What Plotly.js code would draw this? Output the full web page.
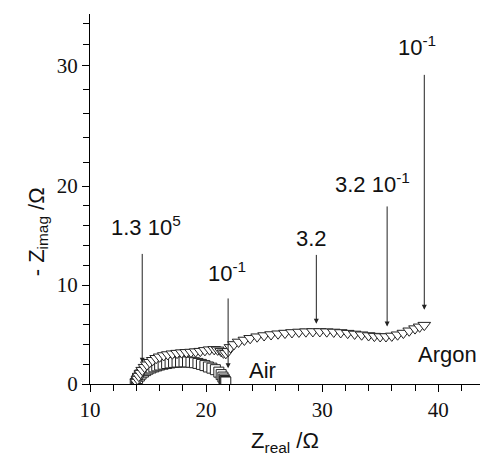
<!DOCTYPE html>
<html><head><meta charset="utf-8">
<script src="https://cdn.plot.ly/plotly-3.0.1.min.js"></script>
<style>body{margin:0;background:#fff}#chart{width:492px;height:456px}</style>
</head><body><div id="chart"></div>
<script>
// Air (squares)
const airX = [13.9,14.0,14.1,14.25,14.4,14.6,14.8,15.0,15.25,15.5,15.75,16.0,16.3,16.6,16.9,17.2,17.5,17.8,18.1,18.4,18.7,19.0,19.3,19.6,19.9,20.2,20.5,20.8,21.1,21.3,21.45,21.55,21.6,21.65,21.7];
const airY = [0.05,0.3,0.55,0.8,1.0,1.2,1.35,1.5,1.62,1.73,1.83,1.92,2.0,2.07,2.13,2.18,2.21,2.23,2.24,2.23,2.2,2.15,2.08,1.98,1.86,1.72,1.6,1.45,1.2,0.95,0.7,0.5,0.35,0.25,0.2];
// Argon (down triangles)
const argX = [14.0,14.1,14.2,14.35,14.5,14.7,14.9,15.15,15.4,15.7,16.0,16.35,16.7,17.1,17.5,17.9,18.3,18.7,19.1,19.5,19.9,20.3,20.7,21.0,21.3,21.5,21.7,21.9,22.1,22.4,22.8,23.3,23.8,24.4,25.0,25.6,26.2,26.8,27.4,28.0,28.6,29.2,29.8,30.4,31.0,31.6,32.2,32.8,33.4,34.0,34.5,35.0,35.5,36.0,36.5,37.0,37.5,38.0,38.4,38.8];
const argY = [0.2,0.5,0.8,1.1,1.4,1.7,1.95,2.2,2.4,2.6,2.75,2.88,2.98,3.06,3.12,3.17,3.2,3.23,3.27,3.32,3.4,3.47,3.5,3.45,3.3,3.15,3.1,3.3,3.7,4.0,4.25,4.45,4.62,4.78,4.9,5.0,5.08,5.15,5.21,5.26,5.29,5.31,5.31,5.29,5.26,5.21,5.14,5.06,4.98,4.9,4.84,4.8,4.8,4.86,4.98,5.15,5.38,5.6,5.78,5.95];
// frequency labels: text, tip (x,y), tail y, text position
const freqText = ["1.3 10<sup>5</sup>","10<sup>-1</sup>","3.2","3.2 10<sup>-1</sup>","10<sup>-1</sup>"];
const tipX = [14.5,21.9,29.5,35.6,38.8];
const tipY = [2.15,1.6,6.1,5.8,7.5];
const tailY = [13.3,8.8,13.2,18.1,31.4];
const labelX = [14.8,21.8,29.1,34.3,38.2];
const labelY = [16.0,11.3,14.7,20.3,34.2];
const seriesNames = ["Air","Argon"];
const seriesLabelX = [24.9,40.8];
const seriesLabelY = [1.4,3.0];
// y tick marks as placed in the reference picture (upper part of the printed axis is stretched)
const yTickVals = [0,10,20,32.2];
const yTickText = ["0","10","20","30"];
const yMinorVals = [2,4,6,8,12,14,16,18,22.4,24.9,27.3,29.8,34.3,36.4];

const annFont = {family:"Liberation Sans", size:22, color:"#111"};
const annotations = [];
for (let i=0;i<freqText.length;i++){
  annotations.push({x:tipX[i], y:tipY[i], ax:tipX[i], ay:tailY[i], axref:"x", ayref:"y", xref:"x", yref:"y",
    text:"", showarrow:true, arrowhead:2, arrowsize:1, arrowwidth:1, arrowcolor:"#222", standoff:0});
  annotations.push({x:labelX[i], y:labelY[i], xref:"x", yref:"y", text:freqText[i], showarrow:false, font:annFont});
}
for (let i=0;i<seriesNames.length;i++){
  annotations.push({x:seriesLabelX[i], y:seriesLabelY[i], xref:"x", yref:"y", text:seriesNames[i], showarrow:false, font:annFont});
}
// y axis title, placed like the reference
annotations.push({xref:"paper", yref:"paper", x:0, y:0.41, xshift:-52, xanchor:"center", yanchor:"middle", textangle:-90, showarrow:false,
  text:"- Z<sub>imag</sub> /Ω", font:{family:"Liberation Sans", size:22, color:"#111"}});

const traces = [
  {x:airX, y:airY, mode:"markers", type:"scatter", name:"Air",
   marker:{symbol:"square", size:10, color:"#fff", line:{color:"#222", width:1}}},
  {x:argX, y:argY, mode:"markers", type:"scatter", name:"Argon",
   marker:{symbol:"triangle-down", size:11, color:"#fff", line:{color:"#222", width:1}}}
];
const tickFont = {family:"'Times New Roman', 'Liberation Serif', serif", size:21, color:"#111"};
const titleFont = {family:"Liberation Sans", size:22, color:"#111"};
const layout = {
  width:492, height:456, showlegend:false,
  paper_bgcolor:"#fff", plot_bgcolor:"#fff",
  margin:{l:90, r:12, t:14, b:72},
  xaxis:{range:[10,43.6], showgrid:false, zeroline:false, showline:true, linecolor:"#000", linewidth:1,
    ticks:"outside", ticklen:7, tickwidth:1, tickcolor:"#000", tickvals:[10,20,30,40], tickfont:tickFont,
    minor:{ticks:"outside", ticklen:6, tickcolor:"#000", dtick:2, showgrid:false},
    title:{text:"Z<sub>real</sub> /Ω", font:titleFont, standoff:12}},
  yaxis:{range:[0,37.4], showgrid:false, zeroline:false, showline:true, linecolor:"#000", linewidth:1,
    ticks:"outside", ticklen:7, tickwidth:1, tickcolor:"#000", tickmode:"array", tickvals:yTickVals, ticktext:yTickText, tickfont:tickFont,
    minor:{ticks:"outside", ticklen:6, tickcolor:"#000", tickmode:"array", tickvals:yMinorVals, showgrid:false}},
  annotations:annotations
};
Plotly.newPlot("chart", traces, layout, {staticPlot:true, displayModeBar:false});
</script></body></html>
